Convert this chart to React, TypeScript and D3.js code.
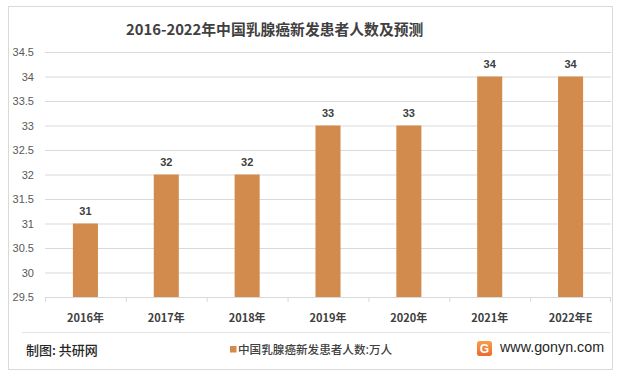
import React from "react";
import * as d3 from "d3";

const categories = ["2016年", "2017年", "2018年", "2019年", "2020年", "2021年", "2022年E"];
const values = [31, 32, 32, 33, 33, 34, 34];
const yTicks = [29.5, 30, 30.5, 31, 31.5, 32, 32.5, 33, 33.5, 34, 34.5];
const title = "2016-2022年中国乳腺癌新发患者人数及预测";
const legendLabel = "中国乳腺癌新发患者人数:万人";
const sourceLabel = "制图: 共研网";
const siteLabel = "www.gonyn.com";

const W = 620, H = 376;
const FONT = "'Noto Sans CJK SC', 'Noto Sans', sans-serif";
const NUMFONT = "'Liberation Sans', 'Noto Sans', sans-serif";
const BAR = "#D38B4D";

export default function App() {
  const left = 45, right = 611, top = 52, bottom = 297;
  const x = d3.scaleBand<string>().domain(categories).range([left, right]).paddingInner(0.69).paddingOuter(0.345);
  const xb = d3.scaleBand<string>().domain(categories).range([left, right]);
  const y = d3.scaleLinear().domain([29.5, 34.5]).range([bottom, top]);
  return (
    <svg width={W} height={H} style={{ position: "absolute", left: 0, top: 0 }}>
      <defs>
        <linearGradient id="lg" x1="0" y1="0" x2="0" y2="1">
          <stop offset="0" stopColor="#f6a14a" />
          <stop offset="1" stopColor="#ec6a2c" />
        </linearGradient>
      </defs>
      <rect x={0} y={0} width={W} height={H} fill="#fff" />
      <rect x={8.5} y={6.5} width={604} height={363} fill="none" stroke="#d9d9d9" />
      <text x={126} y={35} fontFamily={FONT} fontWeight="bold" fontSize={14.8} fill="#404040">{title}</text>
      {yTicks.map((t) => (
        <g key={t}>
          {t > 29.5 && <line x1={left} x2={right} y1={y(t) + 0.5} y2={y(t) + 0.5} stroke="#d9d9d9" />}
          <text x={34} y={y(t) + 4} textAnchor="end" fontFamily={NUMFONT} fontSize={11} fill="#595959">{t}</text>
        </g>
      ))}
      <line x1={left} x2={right} y1={bottom + 0.5} y2={bottom + 0.5} stroke="#d9d9d9" />
      {categories.map((c) => (
        <line key={"t" + c} x1={xb(c)! + 0.5} x2={xb(c)! + 0.5} y1={bottom} y2={bottom + 5} stroke="#d9d9d9" />
      ))}
      <line x1={right - 0.5} x2={right - 0.5} y1={bottom} y2={bottom + 5} stroke="#d9d9d9" />
      {categories.map((c, i) => (
        <g key={c}>
          <rect x={x(c)} y={y(values[i])} width={x.bandwidth()} height={bottom - y(values[i])} fill={BAR} />
          <text x={x(c)! + x.bandwidth() / 2} y={y(values[i]) - 9} textAnchor="middle" fontFamily={NUMFONT} fontWeight="bold" fontSize={11} fill="#404040">{values[i]}</text>
          <text x={xb(c)! + xb.bandwidth() / 2} y={322} textAnchor="middle" fontFamily={FONT} fontWeight="bold" fontSize={11} fill="#404040">{c}</text>
        </g>
      ))}
      <line x1={22} x2={610} y1={332.5} y2={332.5} stroke="#e3e3e3" />
      <text x={26} y={355} fontFamily={FONT} fontWeight={500} fontSize={13} fill="#262626">{sourceLabel}</text>
      <rect x={230} y={346} width={6.5} height={6.5} fill={BAR} />
      <text x={238} y={354} fontFamily={FONT} fontWeight={500} fontSize={11.6} fill="#404040">{legendLabel}</text>
      <g>
        <rect x={477} y={341} width={15} height={15} rx={2.5} fill="url(#lg)" />
        <text x={484.5} y={353} textAnchor="middle" fontFamily={NUMFONT} fontWeight="bold" fontSize={12} fill="#fff">G</text>
      </g>
      <text x={500} y={352} fontFamily={NUMFONT} fontSize={14.3} fill="#262626">{siteLabel}</text>
    </svg>
  );
}
